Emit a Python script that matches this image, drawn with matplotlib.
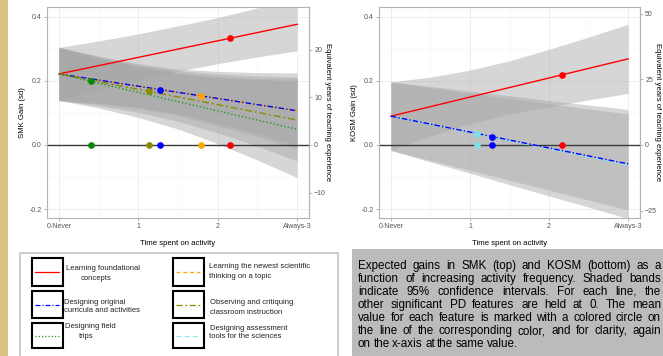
import numpy as np
import matplotlib
matplotlib.use("Agg")
import matplotlib.pyplot as plt
from matplotlib.patches import Rectangle

plt.rcParams["font.family"] = ["Liberation Sans", "DejaVu Sans"]

W, H = 663, 356

# --- data ------------------------------------------------------------------
x_grid = [0, 0.5, 1, 1.5, 2, 2.5, 3]
x_ticks = [0, 1, 2, 3]
x_labels = ["0-Never", "1", "2", "Always-3"]

# SMK panel: line start (x=0), line end (x=3), mean frequency of each feature
smk_keys = ["found", "newest", "curric", "observ", "field"]
smk_start = 0.222
smk_end = {"found": 0.377, "newest": 0.107, "curric": 0.107, "observ": 0.078, "field": 0.049}
smk_mean = {"found": 2.16, "newest": 1.79, "curric": 1.27, "observ": 1.14, "field": 0.41}
smk_lo = {
    "found": [0.139, 0.172, 0.203, 0.230, 0.254, 0.275, 0.294],
    "newest": [0.139, 0.128, 0.114, 0.093, 0.060, 0.026, -0.011],
    "curric": [0.139, 0.130, 0.118, 0.098, 0.068, 0.036, 0.002],
    "observ": [0.139, 0.123, 0.102, 0.074, 0.038, -0.004, -0.050],
    "field": [0.139, 0.116, 0.086, 0.050, 0.004, -0.047, -0.102],
}
smk_hi = {
    "found": [0.305, 0.325, 0.347, 0.372, 0.398, 0.428, 0.462],
    "newest": [0.305, 0.278, 0.254, 0.237, 0.230, 0.226, 0.225],
    "curric": [0.305, 0.276, 0.250, 0.232, 0.222, 0.216, 0.212],
    "observ": [0.305, 0.273, 0.246, 0.226, 0.214, 0.208, 0.206],
    "field": [0.305, 0.270, 0.242, 0.222, 0.210, 0.203, 0.200],
}
smk_years_per_sd = 67.1
smk_year_ticks = [-10, 0, 10, 20]

# KOSM panel
kosm_keys = ["found", "assess", "curric"]
kosm_start = 0.090
kosm_end = {"found": 0.269, "assess": -0.063, "curric": -0.059}
kosm_mean = {"found": 2.17, "assess": 1.085, "curric": 1.28}
kosm_lo = {
    "found": [-0.017, 0.028, 0.066, 0.097, 0.119, 0.141, 0.161],
    "assess": [-0.017, -0.053, -0.088, -0.124, -0.159, -0.194, -0.230],
    "curric": [-0.017, -0.048, -0.079, -0.110, -0.141, -0.172, -0.203],
}
kosm_hi = {
    "found": [0.197, 0.212, 0.234, 0.263, 0.299, 0.337, 0.377],
    "assess": [0.197, 0.179, 0.162, 0.145, 0.129, 0.113, 0.097],
    "curric": [0.197, 0.183, 0.168, 0.154, 0.139, 0.125, 0.111],
}
kosm_years_per_sd = 122.0
kosm_year_ticks = [-25, 0, 25, 50]

styles = {
    "found": dict(color="#ff0000", ls="-"),
    "newest": dict(color="#ffa500", ls=(0, (3, 2.5))),
    "curric": dict(color="#0000ff", ls=(0, (4, 1.5, 1, 1.5))),
    "observ": dict(color="#8b8b00", ls=(0, (5, 2, 1.5, 2))),
    "field": dict(color="#1f9a1f", ls=(0, (1, 1.6))),
    "assess": dict(color="#8ee5ee", ls=(0, (4, 2.5))),
}
marker_colors = {"found": "#ff0000", "newest": "#ffa500", "curric": "#0000ff",
                 "observ": "#8b8b00", "field": "#008b00", "assess": "#7fe0ea"}

legend_rows = [
    ("found", ["Learning foundational", "concepts"], [(66, 268), (81, 278)]),
    ("curric", ["Designing original", "curricula and activities"], [(64, 302), (64, 311)]),
    ("field", ["Designing field", "trips"], [(65, 327), (79, 336)]),
    ("newest", ["Learning the newest scientific", "thinking on a topic"], [(209, 267), (209, 276)]),
    ("observ", ["Observing and critiquing", "classroom instruction"], [(210, 303), (210, 312)]),
    ("assess", ["Designing assessment", "tools for the sciences"], [(210, 329), (209, 337)]),
]

caption_lines = [
    "Expected gains in SMK (top) and KOSM (bottom) as a",
    "function of increasing activity frequency. Shaded bands",
    "indicate 95% confidence intervals. For each line, the",
    "other significant PD features are held at 0. The mean",
    "value for each feature is marked with a colored circle on",
    "the line of the corresponding color, and for clarity, again",
    "on the x-axis at the same value.",
]


def px_axes(x0, y0, x1, y1):
    return [x0 / W, 1 - y1 / H, (x1 - x0) / W, (y1 - y0) / H]


fig = plt.figure(figsize=(W / 100, H / 100), dpi=100)

# overlay in pixel coordinates for poster decorations
deco = fig.add_axes([0, 0, 1, 1])
deco.set_xlim(0, W)
deco.set_ylim(H, 0)
deco.axis("off")
deco.add_patch(Rectangle((0, 0), 8, H, color="#dcc185", lw=0))
deco.add_patch(Rectangle((20, 253), 318, 110, fc="white", ec="#c4c4c4", lw=1.2))
deco.add_patch(Rectangle((352, 249), 320, 120, fc="#bbbbbb", ec="none"))


def draw_panel(rect, keys, start, ends, means, lo, hi, ypsd, yticks, ylabel):
    ax = fig.add_axes(px_axes(*rect))
    ax.set_xlim(-0.15, 3.15)
    ax.set_ylim(-0.228, 0.431)
    ax.set_xticks(x_ticks)
    ax.set_xticklabels(x_labels)
    ax.set_yticks([-0.2, 0.0, 0.2, 0.4])
    ax.set_yticklabels(["-0.2", "0.0", "0.2", "0.4"])
    ax.set_xticks([0.5, 1.5, 2.5], minor=True)
    ax.set_yticks([-0.1, 0.1, 0.3], minor=True)
    ax.grid(which="major", color="#ebebeb", lw=0.6)
    ax.grid(which="minor", color="#f5f5f5", lw=0.4)
    ax.set_axisbelow(True)
    ax.tick_params(which="minor", length=0)
    ax.tick_params(which="major", length=2.2, width=0.5, color="#999999",
                   labelsize=5.0, labelcolor="#555555", pad=1.5)
    for s in ax.spines.values():
        s.set_color("#b3b3b3")
        s.set_linewidth(0.8)

    for k in keys:
        ax.fill_between(x_grid, lo[k], hi[k], color="#a6a6a6", alpha=0.45, lw=0, zorder=1)
    ax.axhline(0, color="#383838", lw=1.0, zorder=2)
    for k in keys:
        ax.plot([0, 3], [start, ends[k]], lw=1.0, zorder=3, **styles[k])
    for k in keys:
        ym = np.interp(means[k], [0, 3], [start, ends[k]])
        ax.plot([means[k]], [ym], "o", ms=3.8, color=marker_colors[k], zorder=4)
        ax.plot([means[k]], [0], "o", ms=3.8, color=marker_colors[k], zorder=4)

    sec = ax.secondary_yaxis("right", functions=(lambda g: g * ypsd, lambda y: y / ypsd))
    sec.set_yticks(yticks)
    sec.tick_params(length=2.2, width=0.5, color="#999999", labelsize=5.0,
                    labelcolor="#555555", pad=1.5)
    sec.spines["right"].set_color("#b3b3b3")

    ax.set_ylabel(ylabel, fontsize=5.6, va="center", ha="center")
    ax.yaxis.set_label_coords(-0.095, 0.5)
    ax.set_xlabel("Time spent on activity", fontsize=5.6, va="center", ha="center")
    ax.xaxis.set_label_coords(0.5, -0.123)
    return ax


draw_panel((47, 7, 309, 218), smk_keys, smk_start, smk_end, smk_mean,
           smk_lo, smk_hi, smk_years_per_sd, smk_year_ticks, "SMK Gain (sd)")
draw_panel((379, 7, 640, 218), kosm_keys, kosm_start, kosm_end, kosm_mean,
           kosm_lo, kosm_hi, kosm_years_per_sd, kosm_year_ticks, "KOSM Gain (sd)")

# right-hand axis titles
for lx in (327, 657):
    deco.text(lx, 112.5, "Equivalent years of teaching experience", fontsize=5.6,
              rotation=270, ha="center", va="center")

# legend boxes
for i, (k, texts, pos) in enumerate(legend_rows):
    col, row = divmod(i, 3)
    sx = 32 if col == 0 else 173
    sy, ey = [(258, 286), (291, 318), (323, 348)][row]
    deco.add_patch(Rectangle((sx, sy), 31, ey - sy, fc="white", ec="black", lw=1.5))
    yl = (sy + ey) / 2
    deco.plot([sx + 3, sx + 27], [yl, yl], lw=0.9, **styles[k])
    for t, (tx, ty) in zip(texts, pos):
        deco.text(tx, ty, t, fontsize=5.5, ha="left", va="center", color="#222222")

# justified caption
renderer = fig.canvas.get_renderer()
cx0, cx1 = 358, 661
for i, line in enumerate(caption_lines):
    y = 266 + i * 13
    words = line.split(" ")
    objs = [deco.text(0, y, w, fontsize=8.4, ha="left", va="center", color="black")
            for w in words]
    widths = [o.get_window_extent(renderer).width for o in objs]
    if i < len(caption_lines) - 1:
        gap = (cx1 - cx0 - sum(widths)) / (len(words) - 1)
    else:
        gap = 2.4
    x = cx0
    for o, w in zip(objs, widths):
        o.set_x(x)
        x += w + gap

fig.savefig("out.png", dpi=100)
